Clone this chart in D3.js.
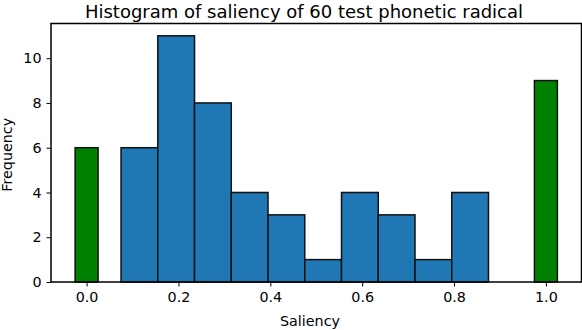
<!DOCTYPE html>
<html>
<head>
<meta charset="utf-8">
<script src="https://cdn.jsdelivr.net/npm/d3@7"></script>
<style>
  body { margin: 0; background: #fff; }
  svg text { font-family: "DejaVu Sans", sans-serif; fill: #000; }
</style>
</head>
<body>
<div id="chart"></div>
<script>
// bins for the blue histogram (left edges, width 0.08)
const binEdges = [0.075, 0.155, 0.235, 0.315, 0.395, 0.475, 0.555, 0.635, 0.715, 0.795, 0.875];
const binCounts = [6, 11, 8, 4, 3, 1, 4, 3, 1, 4];

// the two special groups drawn in green
const edgeValues = [0.0, 1.0];
const edgeCounts = [6, 9];

const xTicks = [0.0, 0.2, 0.4, 0.6, 0.8, 1.0];
const yTicks = [0, 2, 4, 6, 8, 10];

const width = 582;
const height = 330;
const margin = { top: 23.5, right: 0.5, bottom: 48, left: 51 };

const svg = d3.select('#chart')
  .append('svg')
  .attr('width', width)
  .attr('height', height);

const x = d3.scaleLinear()
  .domain([-0.0775, 1.0775])
  .range([margin.left, width - margin.right]);

const y = d3.scaleLinear()
  .domain([0, 11.55])
  .range([height - margin.bottom, margin.top]);

// blue bars
const bins = binCounts.map((c, i) => ({ x0: binEdges[i], x1: binEdges[i + 1], count: c }));
svg.selectAll('.bin')
  .data(bins)
  .enter()
  .append('rect')
  .attr('class', 'bin')
  .attr('x', d => x(d.x0))
  .attr('y', d => y(d.count))
  .attr('width', d => x(d.x1) - x(d.x0))
  .attr('height', d => y(0) - y(d.count))
  .attr('fill', '#1f77b4')
  .attr('stroke', '#111')
  .attr('stroke-width', 1.5);

// green bars, width 0.05 centred on value
const edgeBars = edgeValues.map((v, i) => ({ v, count: edgeCounts[i] }));
svg.selectAll('.edge')
  .data(edgeBars)
  .enter()
  .append('rect')
  .attr('class', 'edge')
  .attr('x', d => x(d.v - 0.025))
  .attr('y', d => y(d.count))
  .attr('width', d => x(d.v + 0.025) - x(d.v - 0.025))
  .attr('height', d => y(0) - y(d.count))
  .attr('fill', '#008000')
  .attr('stroke', '#111')
  .attr('stroke-width', 1.5);

// axes
const xAxis = svg.append('g')
  .attr('transform', `translate(0,${height - margin.bottom})`)
  .call(d3.axisBottom(x).tickValues(xTicks).tickFormat(d3.format('.1f')).tickSizeOuter(0).tickSize(4.5).tickPadding(5));

const yAxis = svg.append('g')
  .attr('transform', `translate(${margin.left},0)`)
  .call(d3.axisLeft(y).tickValues(yTicks).tickSizeOuter(0).tickSize(4.5).tickPadding(5));

[xAxis, yAxis].forEach(g => {
  g.select('.domain').remove();
  g.selectAll('.tick line').attr('stroke', '#000').attr('stroke-width', 1);
  g.selectAll('.tick text').style('font-size', '14.3px').style('font-family', '"DejaVu Sans", sans-serif');
});

// frame
svg.append('rect')
  .attr('x', margin.left)
  .attr('y', margin.top)
  .attr('width', width - margin.right - margin.left)
  .attr('height', height - margin.bottom - margin.top)
  .attr('fill', 'none')
  .attr('stroke', '#000')
  .attr('stroke-width', 1.5);

// labels
svg.append('text')
  .attr('x', 304)
  .attr('y', 17.5)
  .attr('text-anchor', 'middle')
  .style('font-size', '18px')
  .text('Histogram of saliency of 60 test phonetic radical');

svg.append('text')
  .attr('x', 310)
  .attr('y', 326)
  .attr('text-anchor', 'middle')
  .style('font-size', '14.3px')
  .text('Saliency');

svg.append('text')
  .attr('transform', `translate(12,${(margin.top + height - margin.bottom) / 2 + 2}) rotate(-90)`)
  .attr('text-anchor', 'middle')
  .style('font-size', '14.3px')
  .text('Frequency');
</script>
</body>
</html>
